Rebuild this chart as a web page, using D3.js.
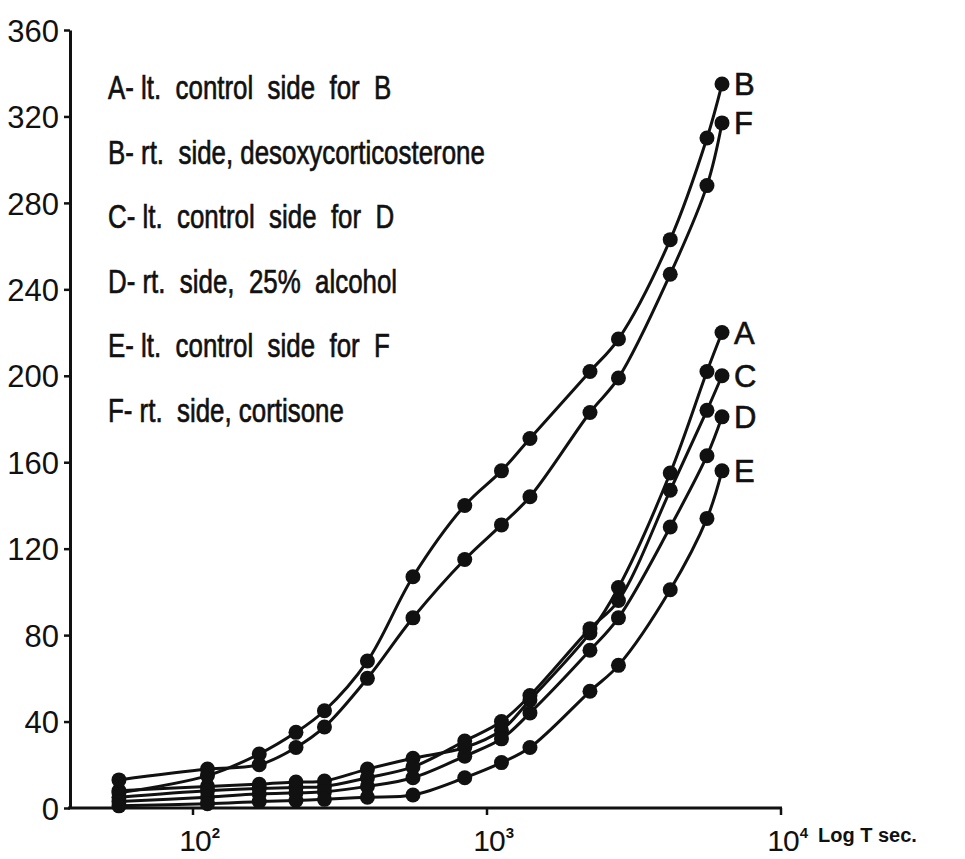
<!DOCTYPE html>
<html>
<head>
<meta charset="utf-8">
<script src="https://cdn.jsdelivr.net/npm/d3@7"></script>
<style>
  body { margin: 0; background: #fff; }
</style>
</head>
<body>
<script>
// times in seconds (log scale), one value per column of dots
const times = [56, 112, 168, 224, 280, 392, 560, 840, 1120, 1400, 2240, 2800, 4200, 5600, 6300];

// series values
const seriesA = [8, 10, 11, 12, 12.5, 18, 23, 28, 36, 50, 81, 102, 155, 202, 220];
const seriesB = [7, 15, 25, 35, 45, 68, 107, 140, 156, 171, 202, 217, 263, 310, 335];
const seriesC = [5, 8, 9, 9.5, 10, 14, 19, 31, 40, 52, 83, 96, 147, 184, 200];
const seriesD = [3, 5, 6.5, 7, 7.5, 10, 14, 24, 32, 44, 73, 88, 130, 163, 181];
const seriesE = [1, 2, 3, 3.5, 4, 5, 6, 14, 21, 28, 54, 66, 101, 134, 156];
const seriesF = [13, 18, 20, 28, 37.5, 60, 88, 115, 131, 144, 183, 199, 247, 288, 317];

const seriesNames = ['A', 'B', 'C', 'D', 'E', 'F'];
const seriesValues = [seriesA, seriesB, seriesC, seriesD, seriesE, seriesF];

const legendLines = [
  'A- lt.  control  side  for  B',
  'B- rt.  side, desoxycorticosterone',
  'C- lt.  control  side  for  D',
  'D- rt.  side,  25%  alcohol',
  'E- lt.  control  side  for  F',
  'F- rt.  side, cortisone'
];

const yTicks = [0, 40, 80, 120, 160, 200, 240, 280, 320, 360];
const xTicks = [100, 1000, 10000];
const xTickExp = ['2', '3', '4'];

const width = 965, height = 859;

const svg = d3.select('body').append('svg')
  .attr('width', width)
  .attr('height', height)
  .style('background', '#fff');

const x = d3.scaleLog().domain([100, 10000]).range([193, 781]);
const y = d3.scaleLinear().domain([0, 360]).range([808, 30]);

// y axis
const yAxis = svg.append('g')
  .attr('transform', 'translate(70,0)')
  .call(d3.axisLeft(y).tickValues(yTicks).tickSize(6).tickSizeOuter(0).tickPadding(5));
yAxis.select('.domain').attr('stroke', '#111').attr('stroke-width', 3);
yAxis.selectAll('.tick line').attr('stroke', '#111').attr('stroke-width', 2.5);
yAxis.selectAll('.tick text')
  .attr('fill', '#111')
  .style('font-family', '"Liberation Sans", Arial, sans-serif')
  .style('font-size', '31px')
  .attr('dy', '0.36em');

// x axis
svg.append('line')
  .attr('x1', 68).attr('x2', x(10000) + 1)
  .attr('y1', y(0)).attr('y2', y(0))
  .attr('stroke', '#111').attr('stroke-width', 3);

const xt = svg.append('g').selectAll('g')
  .data(xTicks)
  .join('g')
  .attr('transform', d => `translate(${x(d)},${y(0)})`);

xt.append('line')
  .attr('y1', 0).attr('y2', 7)
  .attr('stroke', '#111').attr('stroke-width', 2.5);

xt.append('text')
  .attr('x', 2).attr('y', 43)
  .attr('text-anchor', 'middle')
  .attr('fill', '#111')
  .style('font-family', '"Liberation Sans Narrow", "Liberation Sans", sans-serif')
  .style('font-size', '30px')
  .style('letter-spacing', '-1px')
  .text('10');

xt.append('text')
  .attr('x', 23).attr('y', 30)
  .attr('text-anchor', 'middle')
  .attr('fill', '#111')
  .style('font-family', '"Liberation Sans", Arial, sans-serif')
  .style('font-weight', 'bold')
  .style('font-size', '15px')
  .text((d, i) => xTickExp[i]);

svg.append('text')
  .attr('x', 818).attr('y', 842)
  .attr('fill', '#111')
  .style('font-family', '"Liberation Sans", Arial, sans-serif')
  .style('font-weight', 'bold')
  .style('font-size', '20px')
  .text('Log T sec.');

// curves and dots
const line = d3.line()
  .x(d => x(d[0]))
  .y(d => y(d[1]))
  .curve(d3.curveCatmullRom.alpha(0.5));

seriesValues.forEach((vals, i) => {
  const pts = times.map((t, j) => [t, vals[j]]);
  svg.append('path')
    .datum(pts)
    .attr('d', line)
    .attr('fill', 'none')
    .attr('stroke', '#111')
    .attr('stroke-width', 3);

  svg.append('g').selectAll('circle')
    .data(pts)
    .join('circle')
    .attr('cx', d => x(d[0]))
    .attr('cy', d => y(d[1]))
    .attr('r', 7.5)
    .attr('fill', '#111');

  const last = pts[pts.length - 1];
  svg.append('text')
    .attr('x', x(last[0]) + 12)
    .attr('y', y(last[1]))
    .attr('dy', '0.36em')
    .attr('fill', '#111')
    .attr('stroke', '#111')
    .attr('stroke-width', 0.6)
    .style('font-family', '"Liberation Sans Narrow", "Liberation Sans", sans-serif')
    .style('font-size', '31px')
    .text(seriesNames[i]);
});

// legend, squeezed to the narrow lettering of the original
const legend = svg.append('g');
const legendText = legend.selectAll('text')
  .data(legendLines)
  .join('text')
  .attr('x', 0)
  .attr('y', 0)
  .attr('fill', '#111')
  .attr('stroke', '#111')
  .attr('stroke-width', 0.7)
  .style('font-family', '"Liberation Sans Narrow", "Liberation Sans", sans-serif')
  .style('font-size', '34px')
  .style('white-space', 'pre')
  .attr('xml:space', 'preserve')
  .text(d => d);

const bWidth = legendText.nodes()[1].getComputedTextLength();
const k = 377 / bWidth;
legendText.attr('transform', (d, i) => `translate(108,${99 + i * 64.5}) scale(${k},1)`);
</script>
</body>
</html>
